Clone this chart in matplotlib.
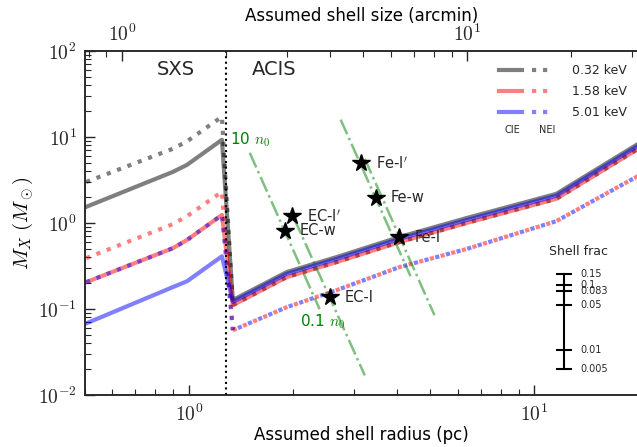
import numpy as np
import matplotlib
matplotlib.use("Agg")
import matplotlib.pyplot as plt
from matplotlib.ticker import FuncFormatter, NullFormatter, LogLocator
from matplotlib.legend_handler import HandlerTuple

plt.rcParams['mathtext.fontset'] = 'cm'
plt.rcParams['font.family'] = ['DejaVu Sans']
plt.rcParams['text.color'] = '.15'
plt.rcParams['axes.edgecolor'] = '.15'
plt.rcParams['xtick.color'] = '.15'
plt.rcParams['ytick.color'] = '.15'

# shell radius (pc); the first 4 points are inside the SXS field, the rest ACIS
radius = [0.504, 0.899, 0.987, 1.246, 1.34, 1.92, 2.68, 4.07, 6.36, 11.58, 20.0]
n_sxs = 5  # points up to and including the first ACIS one

# X-ray emitting mass (Msun) per temperature, CIE and NEI
gray_cie = [1.54, 3.93, 4.74, 9.27, 0.127, 0.269, 0.402, 0.687, 1.14, 2.18, 8.33]
gray_nei = [3.0, 7.3, 8.9, 17.2, 0.111, 0.235, 0.352, 0.60, 1.0, 1.91, 7.3]
red_cie = [0.205, 0.51, 0.634, 1.24, 0.111, 0.235, 0.352, 0.60, 1.0, 1.91, 7.3]
red_nei = [0.39, 0.97, 1.2, 2.3, 0.0566, 0.105, 0.166, 0.307, 0.498, 1.05, 3.53]
blue_cie = [0.068, 0.18, 0.21, 0.41, 0.121, 0.256, 0.382, 0.653, 1.08, 2.07, 7.9]
blue_nei = [0.205, 0.51, 0.634, 1.24, 0.0566, 0.105, 0.166, 0.307, 0.498, 1.05, 3.53]
temps = ['0.32 keV', '1.58 keV', '5.01 keV']

# SXS / ACIS boundary (pc) and pc per arcmin
r_boundary = 1.28
pc_per_arcmin = 0.64

# line measurements
star_names = ["Fe-I$'$", 'Fe-w', 'Fe-I', "EC-I$'$", 'EC-w', 'EC-I']
star_r = [3.14, 3.47, 4.07, 1.985, 1.894, 2.556]
star_m = [5.0, 1.96, 0.687, 1.21, 0.807, 0.137]

# density tracks (10 n0 -> 0.1 n0)
track_r = [[1.50, 2.39], [2.02, 3.23], [2.75, 4.38], [3.23, 5.14]]
track_m = [[6.54, 0.0995], [1.11, 0.0169], [15.9, 0.241], [5.57, 0.0847]]

# shell fraction scale
shell_frac = [0.15, 0.1, 0.083, 0.05, 0.01, 0.005]

fig = plt.figure(figsize=(6.37, 4.47), dpi=100)
ax = fig.add_axes([0.1334, 0.1163, 0.8686, 0.7697])
ax.set_xscale('log')
ax.set_yscale('log')

lw = 3.0


def nei_line(y, color, offset=0.0):
    # split at the SXS/ACIS jump so the dot phase on the ACIS side is controlled
    l, = ax.plot(radius[:n_sxs], y[:n_sxs], color=color, alpha=0.5, lw=lw, ls=':')
    ax.plot(radius[n_sxs - 1:], y[n_sxs - 1:], color=color, alpha=0.5, lw=lw,
            ls=(offset, (1, 1.65)))
    return l


l1, = ax.plot(radius, gray_cie, color='k', alpha=0.5, lw=lw)
l2 = nei_line(gray_nei, 'k')
l3, = ax.plot(radius, red_cie, color='r', alpha=0.5, lw=lw)
l4 = nei_line(red_nei, 'r')
l5, = ax.plot(radius, blue_cie, color='b', alpha=0.5, lw=lw)
l6 = nei_line(blue_nei, 'b', offset=1.32)

ax.axvline(r_boundary, color='k', ls=':', lw=1.5)

for tr, tm in zip(track_r, track_m):
    ax.plot(tr, tm, color='g', alpha=0.5, ls='-.', lw=1.8)
ax.text(track_r[0][0], track_m[0][0] * 1.12, '10 $n_0$', color='g', fontsize=11,
        ha='center', va='bottom')
ax.text(track_r[0][1] * 1.02, track_m[0][1] * 0.92, '0.1 $n_0$', color='g', fontsize=11,
        ha='center', va='top')

ax.plot(star_r, star_m, 'k*', ms=13, zorder=10)
for name, r, m in zip(star_names, star_r, star_m):
    ax.annotate(name, (r, m), xytext=(11, 0), textcoords='offset points',
                fontsize=10.5, va='center', ha='left')

ax.text(0.165, 0.945, 'SXS', transform=ax.transAxes, fontsize=14, ha='center', va='center')
ax.text(0.342, 0.945, 'ACIS', transform=ax.transAxes, fontsize=14, ha='center', va='center')

leg = ax.legend([(l1, l2), (l3, l4), (l5, l6)], temps,
                handler_map={tuple: HandlerTuple(ndivide=None, pad=0.8)},
                loc='upper left', bbox_to_anchor=(0.728, 0.995), frameon=False,
                fontsize=9, handlelength=4.4, handletextpad=1.4, labelspacing=0.65)
ax.text(0.772, 0.77, 'CIE', transform=ax.transAxes, fontsize=7, ha='center', va='center')
ax.text(0.835, 0.77, 'NEI', transform=ax.transAxes, fontsize=7, ha='center', va='center')

ax.set_xlim(0.5, 20)
ax.set_ylim(1e-2, 1e2)

fmt = FuncFormatter(lambda v, pos: r'$10^{%d}$' % int(round(np.log10(v))))
ax.xaxis.set_major_formatter(fmt)
ax.yaxis.set_major_formatter(fmt)
ax.xaxis.set_minor_formatter(NullFormatter())
ax.yaxis.set_major_locator(LogLocator(base=10, numticks=10))
ax.tick_params(which='both', direction='in', top=False, right=False, labelsize=14, pad=6)
ax.tick_params(which='major', length=7, width=1.0)
ax.tick_params(which='minor', length=4, width=0.8)

ax.set_xlabel('Assumed shell radius (pc)', fontsize=12, labelpad=1)
ax.set_ylabel(r'$M_X\ (M_\odot)$', fontsize=15, labelpad=2)

ax2 = ax.twiny()
ax2.set_xscale('log')
ax2.set_xlim(0.5 / pc_per_arcmin, 20 / pc_per_arcmin)
ax2.xaxis.set_major_formatter(fmt)
ax2.xaxis.set_minor_formatter(NullFormatter())
ax2.tick_params(which='both', direction='in', labelsize=14, pad=4)
ax2.tick_params(which='major', length=7, width=1.0)
ax2.tick_params(which='minor', length=4, width=0.8)
ax2.set_xlabel('Assumed shell size (arcmin)', fontsize=12, labelpad=2)
for a in (ax, ax2):
    for s in a.spines.values():
        s.set_linewidth(1.1)

# shell fraction scale bar
sax = ax.inset_axes([0.851, 0.0756, 0.029, 0.276])
sax.set_yscale('log')
sax.set_ylim(min(shell_frac), max(shell_frac))
sax.set_xlim(0, 1)
sax.axis('off')
sax.plot([0.5, 0.5], [min(shell_frac), max(shell_frac)], color='k', lw=1.5, clip_on=False)
sax.plot([0.5] * len(shell_frac), shell_frac, 'k_', ms=11, mew=1.5, clip_on=False)
for f in shell_frac:
    sax.text(1.5, f, '%g' % f, fontsize=7, va='center', ha='left')
sax.text(1.44, 1.17, 'Shell frac', transform=sax.transAxes, fontsize=9, ha='center', va='bottom')

fig.savefig('out.png', dpi=100)
